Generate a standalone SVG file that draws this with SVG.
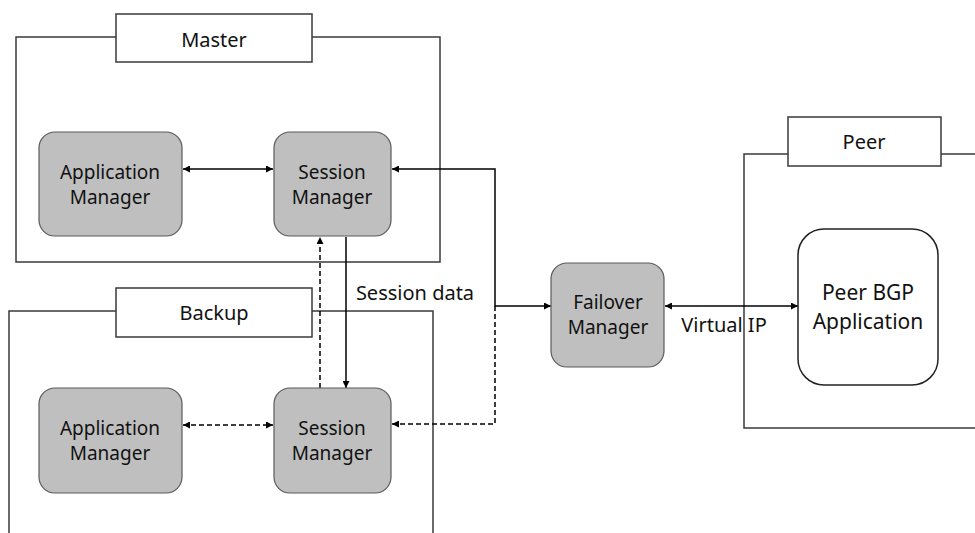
<svg xmlns="http://www.w3.org/2000/svg" width="975" height="533" viewBox="0 0 975 533">
<defs>
<marker id="ah" viewBox="0 0 10 10" refX="10" refY="5" markerWidth="7" markerHeight="7" markerUnits="userSpaceOnUse" orient="auto-start-reverse">
<path d="M0,0 L10,5 L0,10 z" fill="#000"/>
</marker>
<style>
.frame{fill:none;stroke:#3a3a3a;stroke-width:1.5}
.lbl{fill:#fff;stroke:#3a3a3a;stroke-width:1.5}
.node{fill:#bfbfbf;stroke:#5a5a5a;stroke-width:1.2}
.peer{fill:#fff;stroke:#222;stroke-width:1.5}
text{font-family:"Noto Sans","Open Sans",sans-serif;fill:#111;text-anchor:middle;dominant-baseline:central}
.t{font-size:19px}
.tl{font-size:20px}
.tp{font-size:21px}
.c{fill:none;stroke:#000;stroke-width:1.5}
.d{stroke-dasharray:5,3}
</style>
</defs>
<g id="frames">
<rect class="frame" x="16" y="37" width="424" height="225"/>
<path class="frame" d="M9,533 V311 H433 V533"/>
<path class="frame" d="M980,154 H744 V428 H980"/>
</g>
<g id="connectors">
<path class="c" d="M183,169 H273" marker-start="url(#ah)" marker-end="url(#ah)"/>
<path class="c" d="M392,169 H495 V306 H551" marker-start="url(#ah)" marker-end="url(#ah)"/>
<path class="c d" d="M495,306 V424 H392" marker-end="url(#ah)"/>
<path class="c d" d="M183,425 H273" marker-start="url(#ah)" marker-end="url(#ah)"/>
<path class="c d" d="M320,388 V237" marker-end="url(#ah)"/>
<path class="c" d="M346,237 V388" marker-end="url(#ah)"/>
<path class="c" d="M665,306 H798" marker-start="url(#ah)" marker-end="url(#ah)"/>
<text class="tl" x="415" y="292">Session data</text>
<text class="tl" x="724" y="324">Virtual IP</text>
</g>
<g id="master-label">
<rect class="lbl" x="116" y="14" width="196" height="48"/>
<text class="tl" x="214" y="39">Master</text>
</g>
<g id="backup-label">
<rect class="lbl" x="116" y="288" width="196" height="49"/>
<text class="tl" x="214" y="312">Backup</text>
</g>
<g id="peer-label">
<rect class="lbl" x="788" y="117" width="153" height="49"/>
<text class="tl" x="864" y="141">Peer</text>
</g>
<g id="master-app">
<rect class="node" x="39" y="132" width="143" height="104" rx="16"/>
<text class="t" x="110" y="172">Application</text>
<text class="t" x="110" y="197">Manager</text>
</g>
<g id="master-session">
<rect class="node" x="274" y="132" width="117" height="104" rx="16"/>
<text class="t" x="332" y="172">Session</text>
<text class="t" x="332" y="197">Manager</text>
</g>
<g id="backup-app">
<rect class="node" x="39" y="388" width="143" height="105" rx="16"/>
<text class="t" x="110" y="428">Application</text>
<text class="t" x="110" y="453">Manager</text>
</g>
<g id="backup-session">
<rect class="node" x="274" y="388" width="117" height="105" rx="16"/>
<text class="t" x="332" y="428">Session</text>
<text class="t" x="332" y="453">Manager</text>
</g>
<g id="failover">
<rect class="node" x="551" y="263" width="113" height="104" rx="16"/>
<text class="t" x="608" y="302">Failover</text>
<text class="t" x="608" y="327">Manager</text>
</g>
<g id="peer-bgp">
<rect class="peer" x="798" y="229" width="140" height="156" rx="26"/>
<text class="tp" x="868" y="292">Peer BGP</text>
<text class="tp" x="868" y="321">Application</text>
</g>
</svg>
